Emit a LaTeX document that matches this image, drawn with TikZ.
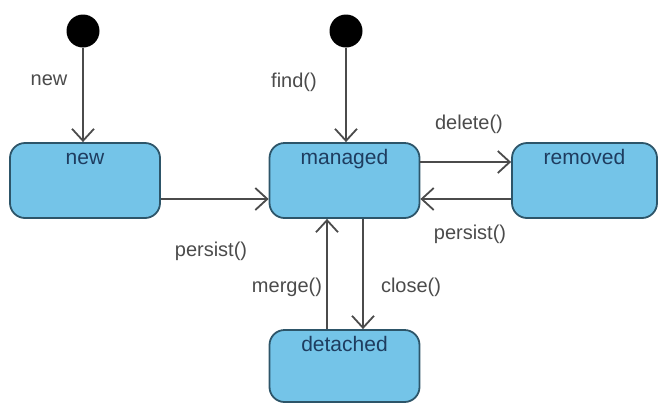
\documentclass[tikz,border=0pt]{standalone}
\usepackage{fontspec}
\setmainfont{Liberation Sans}
\usetikzlibrary{arrows.meta,calc}

\definecolor{stfill}{RGB}{116,196,232}
\definecolor{stdraw}{RGB}{45,85,105}
\definecolor{sttext}{RGB}{30,60,95}
\definecolor{linegray}{RGB}{75,75,75}

\tikzset{
  state/.style={draw=stdraw, line width=0.9pt, fill=stfill, rounded corners=7.5pt,
    minimum width=75pt, minimum height=37.5pt, inner sep=0pt},
  statename/.style={anchor=north, inner sep=0pt, text height=7.5pt, text depth=2pt,
    font=\fontsize{10.5}{12}\selectfont, text=sttext},
  initial/.style={circle, fill=black, minimum size=16.5pt, inner sep=0pt},
  trans/.style={draw=linegray, line width=0.9pt,
    -{Straight Barb[length=6pt,width=11pt,line width=0.9pt]}},
  translabel/.style={font=\fontsize{10}{12}\selectfont, text=linegray}
}

\begin{document}
\begin{tikzpicture}[x=0.5pt, y=-0.5pt]
\useasboundingbox (0,0) rectangle (658,403);

% Zustaende
\node[state] (new) at (85,180.5) {};
\node[state] (managed) at (344.5,180.5) {};
\node[state, minimum width=72.5pt] (removed) at (584.5,180.5) {};
\node[state, minimum height=36pt] (detached) at (344.5,366) {};

\node[statename] (newname) at ($(new.north)+(0,7)$) {new};
\node[statename] (managedname) at ($(managed.north)+(0,7)$) {managed};
\node[statename] (removedname) at ($(removed.north)+(0,7)$) {removed};
\node[statename] (detachedname) at ($(detached.north)+(0,7)$) {detached};

% Startpunkte
\node[initial] (start1) at (83,31) {};
\node[initial] (start2) at (346,31) {};

% Uebergaenge
\draw[trans] (start1) -- (start1 |- new.north);
\draw[trans] (start2) -- (start2 |- managed.north);
\draw[trans] ($(new.east)+(0,18.5)$) -- ($(managed.west)+(0,18.5)$);
\draw[trans] ($(managed.east)+(0,-18.5)$) -- ($(removed.west)+(0,-18.5)$);
\draw[trans] ($(removed.west)+(0,18.5)$) -- ($(managed.east)+(0,18.5)$);
\draw[trans] ($(detached.north)+(-17.5,0)$) -- ($(managed.south)+(-17.5,0)$);
\draw[trans] ($(managed.south)+(18.5,0)$) -- ($(detached.north)+(18.5,0)$);

% Beschriftungen
\node[translabel] (lnew) at (49,80) {new};
\node[translabel] (lfind) at (294,82) {find()};
\node[translabel] (ldelete) at (469,124) {delete()};
\node[translabel] (lpersistr) at (470,234) {persist()};
\node[translabel] (lpersistl) at (211,251) {persist()};
\node[translabel] (lmerge) at (287,287) {merge()};
\node[translabel] (lclose) at (411,287) {close()};
\end{tikzpicture}
\end{document}
